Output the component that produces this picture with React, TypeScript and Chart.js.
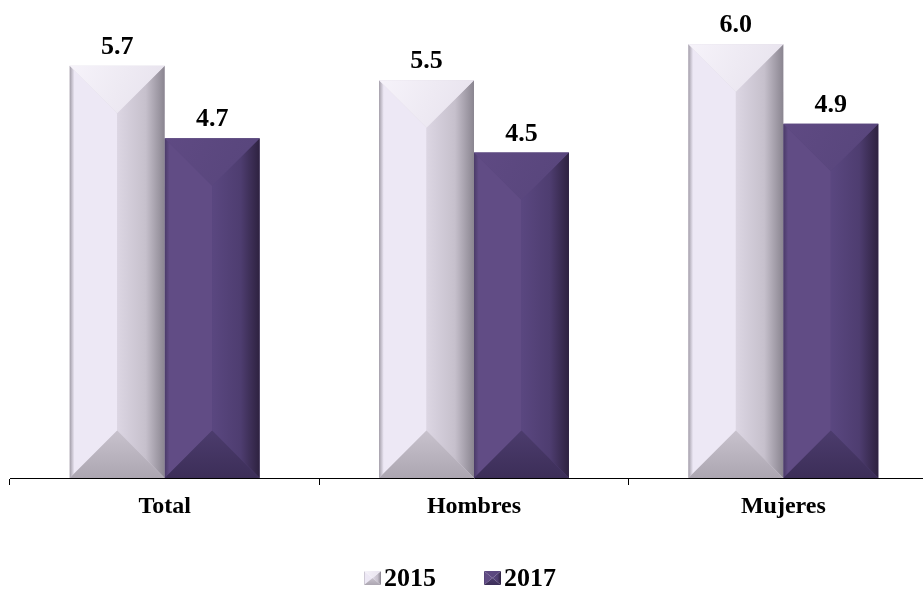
import React, { useEffect, useRef } from "react";
import { Chart, registerables } from "chart.js";

Chart.register(...registerables);

const categories = ["Total", "Hombres", "Mujeres"];
const seriesLabels = ["2015", "2017"];
const values2015 = [5.7, 5.5, 6.0];
const values2017 = [4.7, 4.5, 4.9];

const SERIF = '"Liberation Serif", "Times New Roman", Times, serif';

type Pal = {
  leftEdge: string; left: string; rightInner: string; rightMid: string; rightEdge: string;
  top0: string; top1: string; bot0: string; bot1: string; base: string;
};

const palettes: Pal[] = [
  {
    leftEdge: "#a29da8", left: "#ede8f5", rightInner: "#dcd6e3", rightMid: "#c6c0cc", rightEdge: "#8a8590",
    top0: "#f6f3fa", top1: "#e6e1ec", bot0: "#c8c2cd", bot1: "#aca6b1", base: "#dcd6e2",
  },
  {
    leftEdge: "#4a3a68", left: "#614c85", rightInner: "#5a4780", rightMid: "#4e3d70", rightEdge: "#2e2240",
    top0: "#5f4a83", top1: "#57457b", bot0: "#4c3c6d", bot1: "#3c2e58", base: "#54427a",
  },
];

function drawBevel(ctx: CanvasRenderingContext2D, L: number, T: number, R: number, B: number, pal: Pal) {
  const w = R - L;
  const d = Math.min(w * 0.5, (B - T) / 2);
  const cx = (L + R) / 2;
  ctx.save();
  let g = ctx.createLinearGradient(L, 0, cx, 0);
  g.addColorStop(0, pal.leftEdge);
  g.addColorStop(0.1, pal.left);
  g.addColorStop(1, pal.left);
  ctx.fillStyle = g;
  ctx.beginPath();
  ctx.moveTo(L, T); ctx.lineTo(cx, T + d); ctx.lineTo(cx, B - d); ctx.lineTo(L, B); ctx.closePath();
  ctx.fill();
  g = ctx.createLinearGradient(cx, 0, R, 0);
  g.addColorStop(0, pal.rightInner);
  g.addColorStop(0.6, pal.rightMid);
  g.addColorStop(1, pal.rightEdge);
  ctx.fillStyle = g;
  ctx.beginPath();
  ctx.moveTo(R, T); ctx.lineTo(cx, T + d); ctx.lineTo(cx, B - d); ctx.lineTo(R, B); ctx.closePath();
  ctx.fill();
  g = ctx.createLinearGradient(L, T, R, T + d);
  g.addColorStop(0, pal.top0);
  g.addColorStop(1, pal.top1);
  ctx.fillStyle = g;
  ctx.beginPath();
  ctx.moveTo(L, T); ctx.lineTo(R, T); ctx.lineTo(cx, T + d); ctx.closePath();
  ctx.fill();
  g = ctx.createLinearGradient(0, B - d, 0, B);
  g.addColorStop(0, pal.bot0);
  g.addColorStop(1, pal.bot1);
  ctx.fillStyle = g;
  ctx.beginPath();
  ctx.moveTo(L, B); ctx.lineTo(R, B); ctx.lineTo(cx, B - d); ctx.closePath();
  ctx.fill();
  ctx.restore();
}

const bevelPlugin = {
  id: "bevelBars",
  afterDatasetsDraw(chart: any) {
    const ctx = chart.ctx as CanvasRenderingContext2D;
    chart.data.datasets.forEach((_ds: any, di: number) => {
      const meta = chart.getDatasetMeta(di);
      meta.data.forEach((el: any) => {
        const { x, y, base, width } = el.getProps(["x", "y", "base", "width"], true);
        drawBevel(ctx, x - width / 2, y, x + width / 2, base, palettes[di]);
      });
    });
  },
};

const valueLabelPlugin = {
  id: "valueLabels",
  afterDatasetsDraw(chart: any) {
    const ctx = chart.ctx as CanvasRenderingContext2D;
    ctx.save();
    ctx.font = `bold 26px ${SERIF}`;
    ctx.fillStyle = "#000";
    ctx.textAlign = "center";
    ctx.textBaseline = "alphabetic";
    chart.data.datasets.forEach((ds: any, di: number) => {
      const meta = chart.getDatasetMeta(di);
      meta.data.forEach((el: any, i: number) => {
        const v = ds.data[i] as number;
        ctx.fillText(v.toFixed(1), el.x, el.y - 12);
      });
    });
    ctx.restore();
  },
};

const legendPlugin = {
  id: "customLegend",
  afterDraw(chart: any) {
    const ctx = chart.ctx as CanvasRenderingContext2D;
    ctx.save();
    ctx.font = `bold 26px ${SERIF}`;
    ctx.textBaseline = "middle";
    ctx.textAlign = "left";
    const boxW = 17, boxH = 14, gap = 3, spacing = 48;
    const widths = seriesLabels.map((t) => boxW + gap + ctx.measureText(t).width);
    const total = widths.reduce((a, b) => a + b, 0) + spacing * (seriesLabels.length - 1);
    const centerX = 460;
    const cy = 578;
    let x = centerX - total / 2;
    seriesLabels.forEach((t, i) => {
      drawBevel(ctx, x, cy - boxH / 2, x + boxW, cy + boxH / 2, palettes[i]);
      ctx.fillStyle = "#000";
      ctx.fillText(t, x + boxW + gap, cy + 1);
      x += widths[i] + spacing;
    });
    ctx.restore();
  },
};

export default function App() {
  const ref = useRef<HTMLCanvasElement>(null);
  useEffect(() => {
    if (!ref.current) return;
    const chart = new Chart(ref.current, {
      type: "bar",
      data: {
        labels: categories,
        datasets: [
          { label: seriesLabels[0], data: values2015, backgroundColor: palettes[0].base, borderWidth: 0 },
          { label: seriesLabels[1], data: values2017, backgroundColor: palettes[1].base, borderWidth: 0 },
        ],
      },
      options: {
        responsive: false,
        animation: false,
        layout: { padding: { left: 10, right: 2, top: 8, bottom: 0 } },
        datasets: { bar: { categoryPercentage: 0.614, barPercentage: 1 } } as any,
        plugins: {
          legend: { display: false },
          tooltip: { enabled: false },
        },
        scales: {
          x: {
            offset: true,
            grid: {
              display: true,
              drawOnChartArea: false,
              drawTicks: true,
              tickLength: 7,
              color: "#000",
              offset: true,
            },
            border: { display: true, color: "#000", width: 1 },
            ticks: {
              color: "#000",
              padding: 7,
              font: { family: SERIF, size: 24, weight: "bold" },
            },
            afterFit: (s: any) => {
              s.height = 111;
            },
          },
          y: { display: false, min: 0, max: 6.5 },
        },
      },
      plugins: [bevelPlugin, valueLabelPlugin, legendPlugin],
    });
    return () => chart.destroy();
  }, []);
  return (
    <div
      style={{
        position: "fixed",
        left: 0,
        top: 0,
        width: 923,
        height: 589,
        overflow: "hidden",
        background: "#fff",
      }}
    >
      <canvas ref={ref} width={940} height={589} style={{ display: "block" }} />
    </div>
  );
}
